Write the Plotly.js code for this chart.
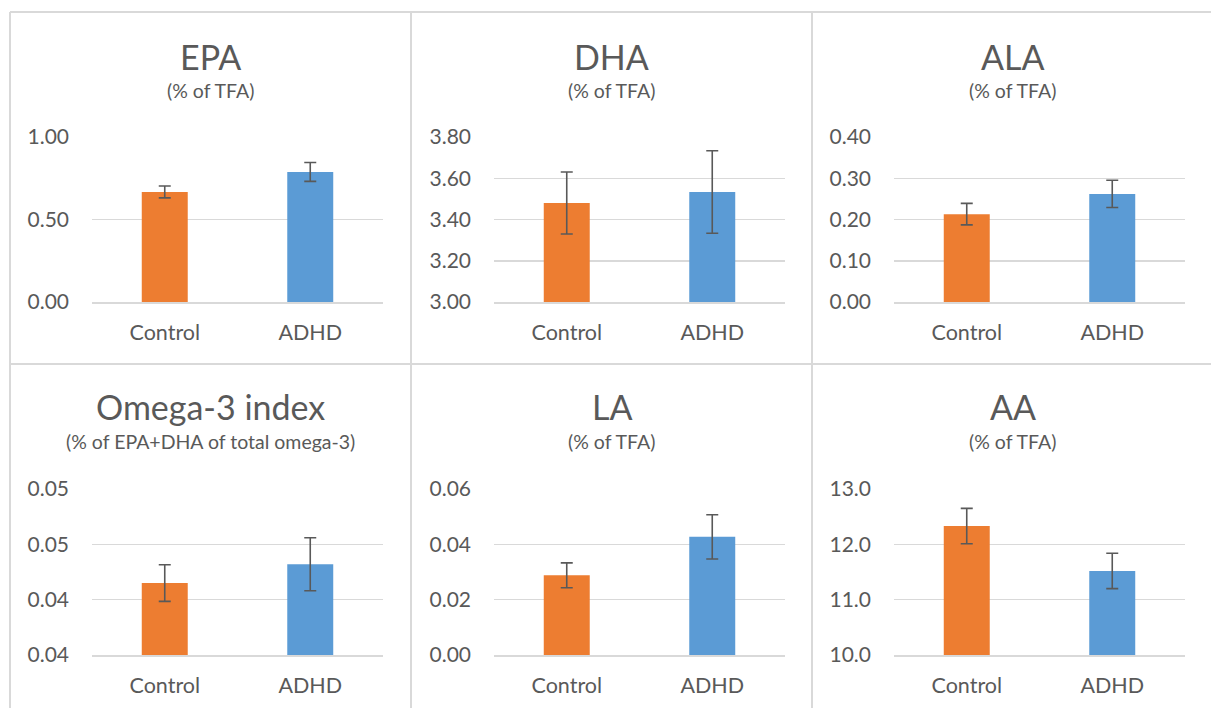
<!DOCTYPE html>
<html>
<head>
<meta charset="utf-8">
<script src="https://cdn.plot.ly/plotly-3.0.1.min.js"></script>
<style>
html, body { margin: 0; padding: 0; background: #ffffff; }
#chart { width: 1211px; height: 708px; }
</style>
</head>
<body>
<div id="chart"></div>
<script>
// ---- data ----
const categories = ['Control', 'ADHD'];
const panelTitles = ['EPA', 'DHA', 'ALA', 'Omega-3 index', 'LA', 'AA'];
const panelSubtitles = ['(% of TFA)', '(% of TFA)', '(% of TFA)', '(% of EPA+DHA of total omega-3)', '(% of TFA)', '(% of TFA)'];

const epaValues = [0.667, 0.788];
const epaErrors = [0.036, 0.057];
const dhaValues = [3.48, 3.533];
const dhaErrors = [0.15, 0.20];
const alaValues = [0.213, 0.262];
const alaErrors = [0.026, 0.033];
const omega3Values = [0.0415, 0.0432];
const omega3Errors = [0.00165, 0.0024];
const laValues = [0.0288, 0.0427];
const laErrors = [0.0045, 0.008];
const aaValues = [12.33, 11.52];
const aaErrors = [0.32, 0.32];

const epaTicks = [0, 0.5, 1.0];
const epaTickText = ['0.00', '0.50', '1.00'];
const dhaTicks = [3.0, 3.2, 3.4, 3.6, 3.8];
const dhaTickText = ['3.00', '3.20', '3.40', '3.60', '3.80'];
const alaTicks = [0, 0.1, 0.2, 0.3, 0.4];
const alaTickText = ['0.00', '0.10', '0.20', '0.30', '0.40'];
const omega3Ticks = [0.035, 0.04, 0.045, 0.05];
const omega3TickText = ['0.04', '0.04', '0.05', '0.05'];
const laTicks = [0, 0.02, 0.04, 0.06];
const laTickText = ['0.00', '0.02', '0.04', '0.06'];
const aaTicks = [10, 11, 12, 13];
const aaTickText = ['10.0', '11.0', '12.0', '13.0'];

// ---- styling ----
const W = 1211, H = 708;
const barColors = ['#ED7D31', '#5B9BD5'];
const textColor = '#595959';
const gridColor = '#D9D9D9';
const FONT = 'Lato, "Open Sans", sans-serif';

const panels = [
  {v: epaValues, e: epaErrors, t: epaTicks, tt: epaTickText},
  {v: dhaValues, e: dhaErrors, t: dhaTicks, tt: dhaTickText},
  {v: alaValues, e: alaErrors, t: alaTicks, tt: alaTickText},
  {v: omega3Values, e: omega3Errors, t: omega3Ticks, tt: omega3TickText},
  {v: laValues, e: laErrors, t: laTicks, tt: laTickText},
  {v: aaValues, e: aaErrors, t: aaTicks, tt: aaTickText}
];

// pixel geometry
const colPlotX = [[92, 383], [494, 785], [894, 1185]];
const rowPlotY = [[137, 302], [489, 655]];
const colPanelX = [10, 411, 812];
const titleY = [56, 407];
const subY = [90.5, 441.5];

const px = x => x / W;
const py = y => (H - y) / H;

const data = [];
const layout = {
  width: W, height: H,
  margin: {l: 0, r: 0, t: 0, b: 0},
  paper_bgcolor: '#ffffff',
  plot_bgcolor: '#ffffff',
  showlegend: false,
  bargap: 0.684,
  font: {family: FONT, color: textColor},
  annotations: [],
  shapes: []
};

panels.forEach((p, i) => {
  const r = Math.floor(i / 3), c = i % 3;
  const xa = 'x' + (i === 0 ? '' : i + 1);
  const ya = 'y' + (i === 0 ? '' : i + 1);
  data.push({
    type: 'bar',
    x: categories,
    y: p.v,
    xaxis: xa, yaxis: ya,
    marker: {color: barColors, line: {width: 0}},
    error_y: {type: 'data', array: p.e, visible: true, color: textColor, thickness: 1.6, width: 6},
    hoverinfo: 'x+y'
  });
  const xk = 'xaxis' + (i === 0 ? '' : i + 1);
  const yk = 'yaxis' + (i === 0 ? '' : i + 1);
  layout[xk] = {
    domain: [px(colPlotX[c][0]), px(colPlotX[c][1])],
    anchor: ya,
    showgrid: false,
    showline: true, linecolor: gridColor, linewidth: 1.5,
    ticks: '', ticklabelstandoff: 11,
    tickfont: {family: FONT, size: 21.5, color: textColor},
    fixedrange: true
  };
  layout[yk] = {
    domain: [py(rowPlotY[r][1]), py(rowPlotY[r][0])],
    anchor: xa,
    range: [p.t[0], p.t[p.t.length - 1]],
    tickmode: 'array', tickvals: p.t, ticktext: p.tt,
    showgrid: true, gridcolor: gridColor, gridwidth: 1.5,
    zeroline: false, showline: false,
    ticks: '', ticklabelstandoff: 22,
    tickfont: {family: FONT, size: 21, color: textColor},
    fixedrange: true
  };
  const cx = (colPanelX[c] + (c < 2 ? colPanelX[c + 1] : 1213)) / 2;
  layout.annotations.push({
    xref: 'paper', yref: 'paper', x: px(cx), y: py(titleY[r]),
    xanchor: 'center', yanchor: 'middle', showarrow: false,
    text: panelTitles[i], font: {family: FONT, size: 34, color: textColor}
  });
  layout.annotations.push({
    xref: 'paper', yref: 'paper', x: px(cx), y: py(subY[r]),
    xanchor: 'center', yanchor: 'middle', showarrow: false,
    text: panelSubtitles[i], font: {family: FONT, size: 19.5, color: textColor}
  });
});

// panel borders
const lineStyle = {color: gridColor, width: 2};
[12, 364].forEach(y => layout.shapes.push({type: 'line', xref: 'paper', yref: 'paper', x0: px(10), x1: 1, y0: py(y), y1: py(y), line: lineStyle}));
[10, 411, 812].forEach(x => layout.shapes.push({type: 'line', xref: 'paper', yref: 'paper', x0: px(x), x1: px(x), y0: py(12), y1: 0, line: lineStyle}));

Plotly.newPlot('chart', data, layout, {displayModeBar: false, staticPlot: true});
</script>
</body>
</html>
